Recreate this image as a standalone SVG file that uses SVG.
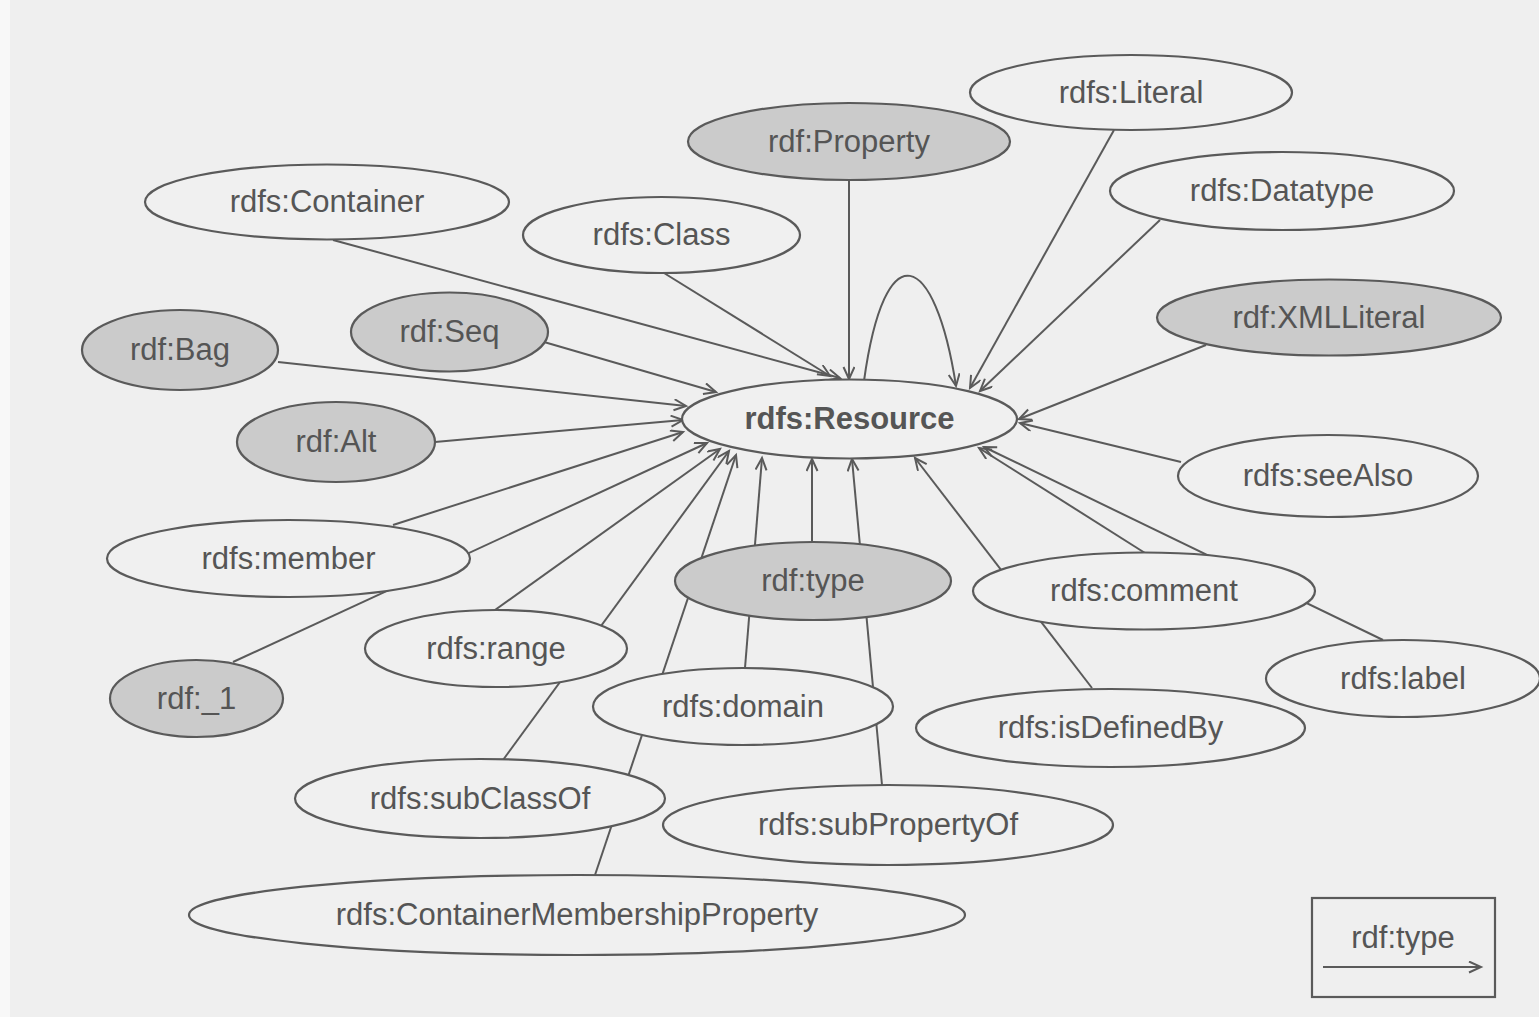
<svg xmlns="http://www.w3.org/2000/svg" width="1539" height="1017" viewBox="0 0 1539 1017">
<style>
.n ellipse{fill:#f0f0f0;stroke:#5a5a5a;stroke-width:2.2}
.n.g ellipse{fill:#cbcbcb}
.n text{font-family:"Liberation Sans",Arial,sans-serif;font-size:31px;fill:#555;text-anchor:middle}
.e line,.e path{stroke:#5a5a5a;stroke-width:2;fill:none;marker-end:url(#a)}
</style>
<defs>
<marker id="a" markerUnits="userSpaceOnUse" markerWidth="16" markerHeight="14" refX="13" refY="6" orient="auto">
<path d="M1,0.5 L13,6 L1,11.5" fill="none" stroke="#5a5a5a" stroke-width="2"/>
</marker>
</defs>
<rect width="1539" height="1017" fill="#efefef"/>
<rect width="10" height="1017" fill="#f8f8f8"/>
<g class="e" id="connectors">
<line x1="333" y1="240" x2="840" y2="378"/>
<line x1="664" y1="273" x2="830" y2="376"/>
<line x1="849" y1="180" x2="849" y2="379"/>
<path d="M864,381 C885,230 935,250 956,386"/>
<line x1="1114" y1="130" x2="970" y2="388"/>
<line x1="1160" y1="220" x2="980" y2="391"/>
<line x1="1206" y1="345" x2="1019" y2="419"/>
<line x1="1181" y1="462" x2="1020" y2="423"/>
<line x1="544" y1="342" x2="716" y2="392"/>
<line x1="278" y1="362" x2="686" y2="406"/>
<line x1="435" y1="442" x2="683" y2="420"/>
<line x1="393" y1="525" x2="683" y2="432"/>
<line x1="233" y1="662" x2="707" y2="443"/>
<line x1="495" y1="610" x2="720" y2="449"/>
<line x1="503" y1="760" x2="729" y2="451"/>
<line x1="595" y1="875" x2="736" y2="455"/>
<line x1="745" y1="668" x2="762" y2="458"/>
<line x1="812" y1="542" x2="812" y2="459"/>
<line x1="882" y1="785" x2="852" y2="459"/>
<line x1="1092" y1="688" x2="915" y2="458"/>
<line x1="1145" y1="553" x2="979" y2="448"/>
<line x1="1383" y1="640" x2="984" y2="447"/>
</g>
<g class="n" id="n-literal"><ellipse cx="1131" cy="92.5" rx="161" ry="37.5"/><text x="1131" y="103">rdfs:Literal</text></g>
<g class="n g" id="n-property"><ellipse cx="849" cy="141.5" rx="161" ry="38.5"/><text x="849" y="152">rdf:Property</text></g>
<g class="n" id="n-container"><ellipse cx="327" cy="202" rx="182" ry="37.5"/><text x="327" y="212">rdfs:Container</text></g>
<g class="n" id="n-datatype"><ellipse cx="1282" cy="191" rx="172" ry="39"/><text x="1282" y="201">rdfs:Datatype</text></g>
<g class="n" id="n-class"><ellipse cx="661.5" cy="235" rx="138.5" ry="38"/><text x="661.5" y="245">rdfs:Class</text></g>
<g class="n g" id="n-xmlliteral"><ellipse cx="1329" cy="317.5" rx="172" ry="38"/><text x="1329" y="328">rdf:XMLLiteral</text></g>
<g class="n g" id="n-seq"><ellipse cx="449.5" cy="332" rx="98.5" ry="39.5"/><text x="449.5" y="342">rdf:Seq</text></g>
<g class="n g" id="n-bag"><ellipse cx="180" cy="350" rx="98" ry="40"/><text x="180" y="360">rdf:Bag</text></g>
<g class="n" id="n-resource"><ellipse cx="849.5" cy="419" rx="167.5" ry="39.5"/><text x="849.5" y="429" font-weight="bold">rdfs:Resource</text></g>
<g class="n g" id="n-alt"><ellipse cx="336" cy="442" rx="99" ry="40"/><text x="336" y="452">rdf:Alt</text></g>
<g class="n" id="n-seealso"><ellipse cx="1328" cy="476" rx="150" ry="41"/><text x="1328" y="486">rdfs:seeAlso</text></g>
<g class="n" id="n-member"><ellipse cx="288.5" cy="558.5" rx="181.5" ry="38.5"/><text x="288.5" y="569">rdfs:member</text></g>
<g class="n g" id="n-type"><ellipse cx="813" cy="581" rx="138" ry="39"/><text x="813" y="591">rdf:type</text></g>
<g class="n" id="n-comment"><ellipse cx="1144" cy="591" rx="171" ry="38.5"/><text x="1144" y="601">rdfs:comment</text></g>
<g class="n" id="n-range"><ellipse cx="496" cy="648.5" rx="131" ry="38.5"/><text x="496" y="659">rdfs:range</text></g>
<g class="n" id="n-label"><ellipse cx="1403" cy="678.5" rx="137" ry="38.5"/><text x="1403" y="689">rdfs:label</text></g>
<g class="n g" id="n-1"><ellipse cx="196.5" cy="698.5" rx="86.5" ry="38.5"/><text x="196.5" y="709">rdf:_1</text></g>
<g class="n" id="n-domain"><ellipse cx="743" cy="706.5" rx="150" ry="38.5"/><text x="743" y="717">rdfs:domain</text></g>
<g class="n" id="n-isdefinedby"><ellipse cx="1110.5" cy="728" rx="194.5" ry="39"/><text x="1110.5" y="738">rdfs:isDefinedBy</text></g>
<g class="n" id="n-subclassof"><ellipse cx="480" cy="798.5" rx="185" ry="39.5"/><text x="480" y="809">rdfs:subClassOf</text></g>
<g class="n" id="n-subpropertyof"><ellipse cx="888" cy="825" rx="225" ry="40"/><text x="888" y="835">rdfs:subPropertyOf</text></g>
<g class="n" id="n-cmp"><ellipse cx="577" cy="915" rx="388" ry="40"/><text x="577" y="925">rdfs:ContainerMembershipProperty</text></g>
<g class="n" id="legend">
<rect x="1312" y="898" width="183" height="99" fill="none" stroke="#5a5a5a" stroke-width="2.2"/>
<text x="1403" y="948">rdf:type</text>
<line x1="1323" y1="967" x2="1481" y2="967" stroke="#5a5a5a" stroke-width="2" marker-end="url(#a)"/>
</g>
</svg>
